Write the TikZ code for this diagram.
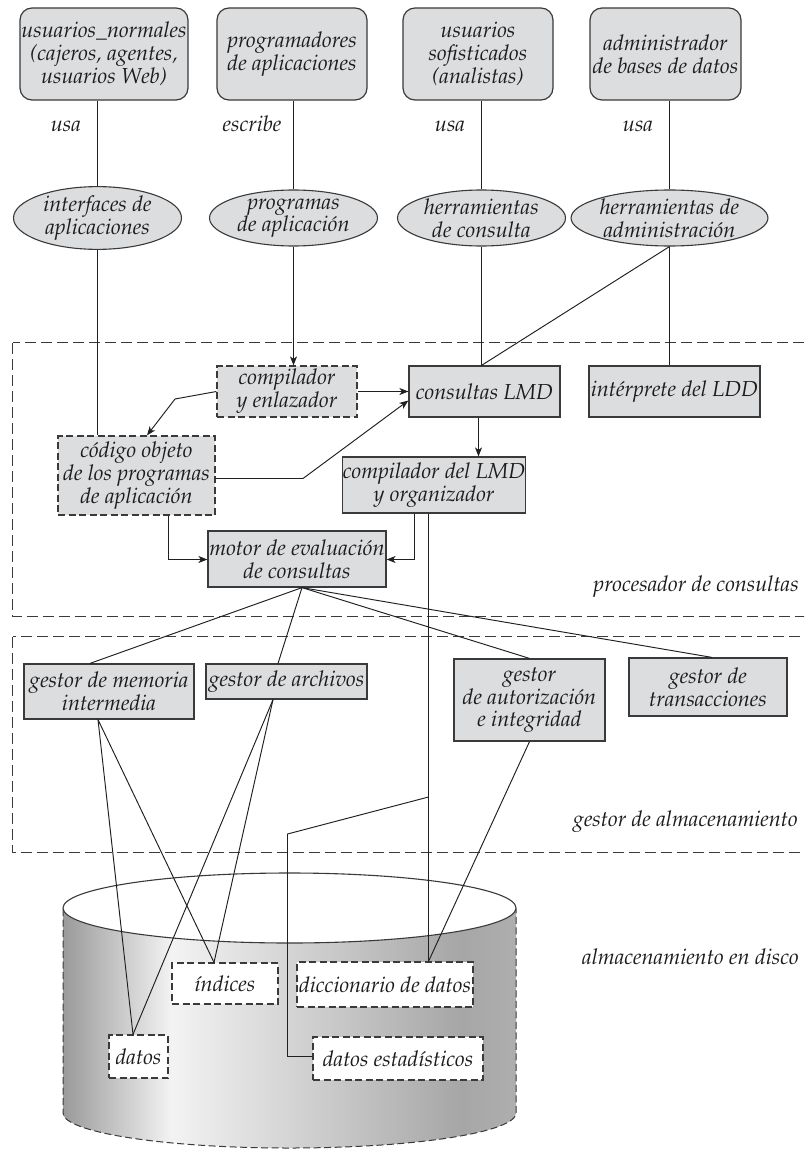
\documentclass[tikz,border=0pt]{standalone}
\usepackage[T1]{fontenc}
\renewcommand{\rmdefault}{ppl}
\usetikzlibrary{shapes.geometric,arrows.meta}
\definecolor{boxgray}{HTML}{DCDDDF}
\definecolor{bord}{HTML}{3A3A3A}
\definecolor{txt}{HTML}{1C1C1C}
\definecolor{lin}{HTML}{202020}
\definecolor{cylA}{HTML}{9A9A9A}
\definecolor{cylB}{HTML}{F3F3F3}
\definecolor{cylC}{HTML}{D2D2D2}
\definecolor{cylD}{HTML}{A6A6A6}
\definecolor{cylE}{HTML}{AEAEAE}
\pgfdeclarehorizontalshading{cylshade}{100bp}{color(0bp)=(cylA); color(25bp)=(cylA); color(37bp)=(cylB); color(51bp)=(cylC); color(69bp)=(cylD); color(75bp)=(cylE); color(100bp)=(cylE)}
\newcommand{\dfont}{\fontsize{21.7}{22.7}\selectfont\itshape}
\begin{document}
\begin{tikzpicture}[x=1pt,y=-1pt,
  every node/.style={font=\dfont, text=txt, inner sep=0pt, align=center},
  userbox/.style={draw=bord, line width=1.2pt, fill=boxgray, rounded corners=12pt, minimum height=92pt},
  ellbox/.style={ellipse, draw=bord, line width=1.1pt, fill=boxgray, minimum width=168pt, minimum height=56pt},
  procbox/.style={draw=bord, line width=1.2pt, fill=boxgray},
  dprocbox/.style={procbox, dash pattern=on 7pt off 3.5pt},
  databox/.style={draw=bord, line width=1.2pt, fill=white, dash pattern=on 7pt off 3.5pt},
  conn/.style={draw=lin, line width=0.95pt},
  arr/.style={conn, -{Stealth[length=9pt,width=7pt,inset=2.5pt]}},
  frame/.style={draw=bord, line width=1pt, dash pattern=on 11pt off 5pt},
  region/.style={anchor=east}
]
\useasboundingbox (0,0) rectangle (804,1150);
\fill[white] (0,0) rectangle (804,1150);

% users
\node[userbox, minimum width=168pt] (u1) at (104,54) {usuarios\_normales\\(cajeros, agentes,\\usuarios Web)};
\node[userbox, minimum width=150pt] (u2) at (292,54) {programadores\\de aplicaciones};
\node[userbox, minimum width=150pt] (u3) at (478,54) {usuarios\\sofisticados\\(analistas)};
\node[userbox, minimum width=151pt] (u4) at (665.5,54) {administrador\\de bases de datos};

\node[anchor=base] (l1) at (66,132) {usa};
\node[anchor=base] (l2) at (252,132) {escribe};
\node[anchor=base] (l3) at (450,132) {usa};
\node[anchor=base] (l4) at (638,132) {usa};

% ellipses
\node[ellbox] (e1) at (97.5,218) {interfaces de\\aplicaciones};
\node[ellbox] (e2) at (293.5,218) {programas\\de aplicación};
\node[ellbox] (e3) at (481.5,218) {herramientas\\de consulta};
\node[ellbox] (e4) at (669.5,218) {herramientas de\\administración};

\draw[conn] (e1.north) -- (e1.north |- u1.south);
\draw[conn] (e2.north) -- (e2.north |- u2.south);
\draw[conn] (e3.north) -- (e3.north |- u3.south);
\draw[conn] (e4.north) -- (e4.north |- u4.south);

% frames
\begin{scope}
\clip (0,0) rectangle (804,1150);
\draw[frame] (12.5,342.5) rectangle (830,616.5);
\draw[frame] (12.5,636.5) rectangle (830,852.5);
\end{scope}
\node[region] (rp) at (799,587) {procesador de consultas};
\node[region] (rg) at (798,822) {gestor de almacenamiento};
\node[region] (rd) at (799,957) {almacenamiento en disco};

% query processor
\node[dprocbox, minimum width=140pt, minimum height=51pt] (comp) at (287,391.5) {compilador\\y enlazador};
\node[procbox, minimum width=151pt, minimum height=51pt] (lmd) at (484.5,391.5) {consultas LMD};
\node[procbox, minimum width=171pt, minimum height=51pt] (ldd) at (674.5,391.5) {intérprete del LDD};
\node[dprocbox, minimum width=157pt, minimum height=79pt] (cod) at (136.5,475.5) {código objeto\\de los programas\\de aplicación};
\node[procbox, minimum width=182pt, minimum height=56pt] (lmdc) at (434,485) {compilador del LMD\\y organizador};
\node[procbox, minimum width=178pt, minimum height=56pt] (motor) at (297,559) {motor de evaluación\\de consultas};

\draw[conn] (e1.south) -- (e1.south |- cod.north);
\draw[arr] (e2.south) -- (e2.south |- comp.north);
\draw[conn] (e3.south) -- (e3.south |- lmd.north);
\draw[conn] (e4.south) -- (e4.south |- ldd.north);
\draw[conn] (e4.south) -- (e3.south |- lmd.north);

\coordinate (k1) at (175,399);
\coordinate (k3) at (303,478.5);
\draw[arr] (comp.east) -- (comp.east -| lmd.west);
\draw[arr] (comp.west) -- (k1) -- ([xshift=10.5pt]cod.north);
\draw[arr] ([yshift=-3pt]cod.east) -- (k3) -- ([yshift=-9pt]lmd.west);
\draw[arr] ([xshift=-6pt]lmd.south) -- ([xshift=-6pt]lmd.south |- lmdc.north);
\draw[arr] ([xshift=32pt]cod.south) |- ([yshift=-0.5pt]motor.west);
\draw[arr] ([xshift=-19.5pt]lmdc.south) |- ([yshift=-0.5pt]motor.east);

% storage manager
\node[procbox, minimum width=170pt, minimum height=55pt] (gm) at (109,691.5) {gestor de memoria\\intermedia};
\node[procbox, minimum width=161pt, minimum height=35pt] (ga) at (286.5,681.5) {gestor de archivos};
\node[procbox, minimum width=151pt, minimum height=82pt] (gai) at (529.5,700) {gestor\\de autorización\\e integridad};
\node[procbox, minimum width=158pt, minimum height=58pt] (gt) at (708,687) {gestor de\\transacciones};

\draw[conn] ([xshift=5pt]motor.south) -- ([xshift=-19pt]gm.north);
\draw[conn] ([xshift=5pt]motor.south) -- ([xshift=-8.5pt]ga.north);
\draw[conn] ([xshift=5pt]motor.south) -- (gai.north);
\draw[conn] ([xshift=5pt]motor.south) -- ([xshift=4pt]gt.north);

% disk
\path[shading=cylshade] (63,909) -- (63,1113) arc[start angle=180, end angle=360, x radius=226.5pt, y radius=35pt] -- (516,909) -- cycle;
\draw[draw=bord, line width=1pt, dash pattern=on 7pt off 3.5pt] (63,909) -- (63,1113) arc[start angle=180, end angle=360, x radius=226.5pt, y radius=35pt] -- (516,909);
\draw[draw=bord, line width=1.1pt, fill=white] (289.5,908) ellipse[x radius=226.5pt, y radius=35pt];

\node[databox, minimum width=106pt, minimum height=41pt] (idx) at (225,983.5) {índices};
\node[databox, minimum width=176pt, minimum height=45pt] (dict) at (385,984.5) {diccionario de datos};
\node[databox, minimum width=59pt, minimum height=43pt] (dat) at (138.5,1056.5) {datos};
\node[databox, minimum width=170pt, minimum height=43pt] (dst) at (398,1058.5) {datos estadísticos};

\draw[conn] ([xshift=-11pt]gm.south) -- ([xshift=-5.5pt]dat.north);
\draw[conn] ([xshift=-11pt]gm.south) -- ([xshift=-11pt]idx.north);
\draw[conn] ([xshift=-13.5pt]ga.south) -- ([xshift=-11pt]idx.north);
\draw[conn] ([xshift=-13.5pt]ga.south) -- ([xshift=-5.5pt]dat.north);
\draw[conn] ([xshift=-5.5pt]lmdc.south) -- ([xshift=-5.5pt]lmdc.south |- dict.north);
\coordinate (br) at (428.5,797);
\coordinate (k5) at (287.5,834);
\draw[conn] (br) -- (k5) |- ([yshift=2pt]dst.west);
\draw[conn] (gai.south) -- ([xshift=43.5pt]dict.north);
\end{tikzpicture}
\end{document}
